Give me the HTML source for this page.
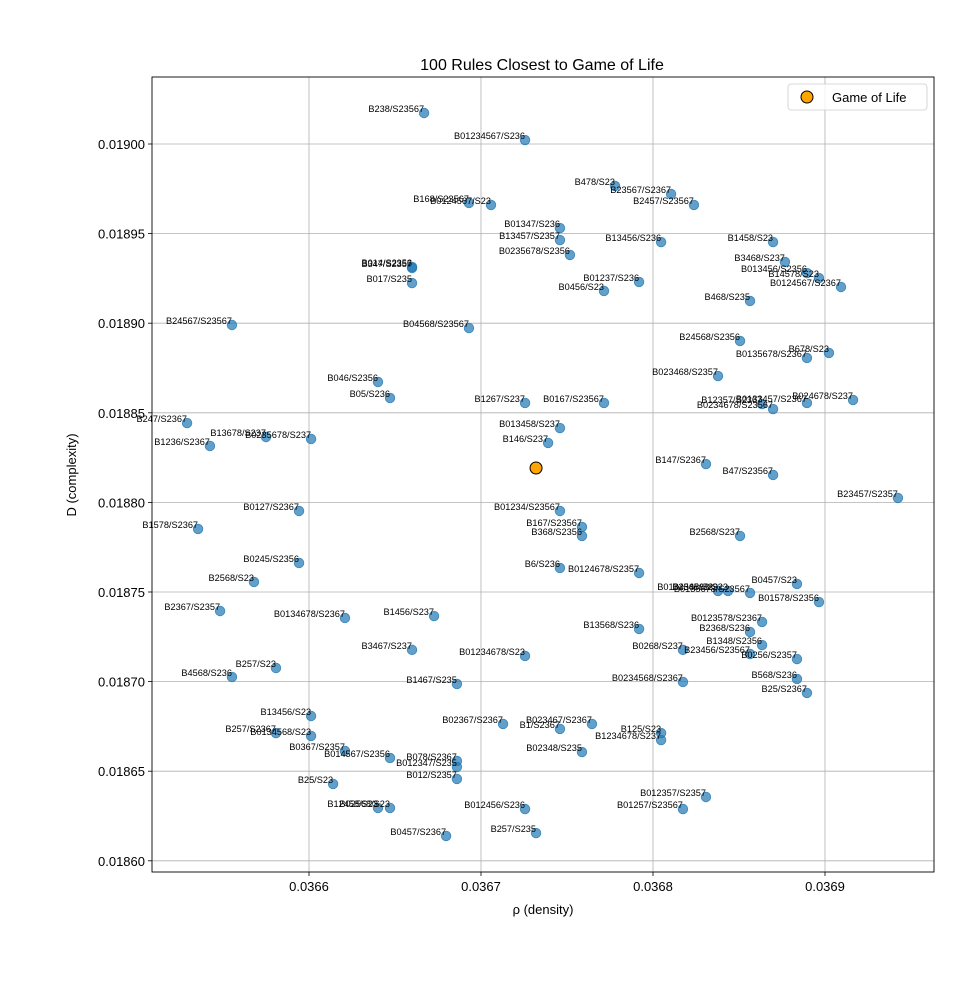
<!DOCTYPE html>
<html><head><meta charset="utf-8"><style>
body{margin:0;background:#fff}
svg{display:block;font-family:"Liberation Sans","DejaVu Sans",sans-serif}
</style></head><body>
<svg id="chart" width="956" height="993"></svg>
<script>
const ruleLabels=["B238/S23567","B01234567/S236","B478/S23","B23567/S2367","B2457/S23567","B168/S23567","B0124567/S23","B01347/S236","B13457/S2357","B0235678/S2356","B13456/S236","B1458/S23","B3468/S237","B013456/S2356","B14578/S23","B0124567/S2367","B014/S2356","B347/S2357","B017/S235","B01237/S236","B0456/S23","B468/S235","B24567/S23567","B04568/S23567","B24568/S2356","B678/S23","B0135678/S2367","B023468/S2357","B046/S2356","B05/S236","B1267/S237","B0167/S23567","B024678/S237","B0133457/S2367","B12357/S2367","B0234678/S23567","B247/S2367","B13678/S237","B0235678/S237","B1236/S2367","B013458/S237","B146/S237","B147/S2367","B47/S23567","B23457/S2357","B0127/S2367","B01234/S23567","B1578/S2367","B167/S23567","B368/S2356","B2568/S237","B0245/S2356","B6/S236","B0124678/S2357","B2568/S23","B0457/S23","B0134568/S23","B234568/S23","B0135678/S23567","B01578/S2356","B2367/S2357","B0134678/S2367","B1456/S237","B0123578/S2367","B13568/S236","B2368/S236","B1348/S2356","B0268/S237","B23456/S23567","B0256/S2357","B3467/S237","B01234678/S23","B257/S23","B568/S236","B4568/S236","B1467/S235","B0234568/S2367","B25/S2367","B13456/S23","B257/S2367","B0134568/S23","B02367/S2367","B1/S2367","B023467/S2367","B125/S23","B1234678/S237","B0367/S2357","B014567/S2356","B078/S2367","B012347/S235","B02348/S235","B012/S2357","B25/S23","B012357/S2357","B12458/S23","B02568/S23","B012456/S236","B01257/S23567","B0457/S2367","B257/S235"];
const densities=[0.0366669,0.0367256,0.0367779,0.0368105,0.0368238,0.0366930,0.0367058,0.0367459,0.0367459,0.0367517,0.0368047,0.0368698,0.0368767,0.0368895,0.0368965,0.0369093,0.0366599,0.0366599,0.0366599,0.0367919,0.0367715,0.0368564,0.0365552,0.0366930,0.0368506,0.0369023,0.0368895,0.0368378,0.0366401,0.0366471,0.0367256,0.0367715,0.0369163,0.0368895,0.0368634,0.0368698,0.0365291,0.0365750,0.0366012,0.0365424,0.0367459,0.0367390,0.0368308,0.0368698,0.0369424,0.0365942,0.0367459,0.0365355,0.0367587,0.0367587,0.0368506,0.0365942,0.0367459,0.0367919,0.0365680,0.0368837,0.0368378,0.0368436,0.0368564,0.0368965,0.0365483,0.0366209,0.0366727,0.0368634,0.0367919,0.0368564,0.0368634,0.0368174,0.0368564,0.0368837,0.0366599,0.0367256,0.0365808,0.0368837,0.0365552,0.0366860,0.0368174,0.0368895,0.0366012,0.0365808,0.0366012,0.0367128,0.0367459,0.0367645,0.0368047,0.0368047,0.0366209,0.0366471,0.0366860,0.0366860,0.0367587,0.0366860,0.0366140,0.0368308,0.0366401,0.0366471,0.0367256,0.0368174,0.0366797,0.0367320];
const complexities=[0.0190173,0.0190022,0.0189766,0.0189721,0.0189660,0.0189671,0.0189660,0.0189531,0.0189464,0.0189381,0.0189453,0.0189453,0.0189342,0.0189280,0.0189252,0.0189202,0.0189314,0.0189308,0.0189224,0.0189230,0.0189180,0.0189124,0.0188990,0.0188973,0.0188901,0.0188834,0.0188806,0.0188705,0.0188672,0.0188583,0.0188555,0.0188555,0.0188572,0.0188555,0.0188549,0.0188521,0.0188443,0.0188365,0.0188354,0.0188315,0.0188415,0.0188332,0.0188214,0.0188153,0.0188025,0.0187952,0.0187952,0.0187852,0.0187863,0.0187813,0.0187813,0.0187662,0.0187634,0.0187606,0.0187556,0.0187545,0.0187506,0.0187506,0.0187495,0.0187444,0.0187394,0.0187355,0.0187366,0.0187333,0.0187294,0.0187277,0.0187204,0.0187177,0.0187154,0.0187126,0.0187177,0.0187143,0.0187076,0.0187015,0.0187026,0.0186987,0.0186998,0.0186937,0.0186808,0.0186713,0.0186697,0.0186764,0.0186736,0.0186764,0.0186713,0.0186674,0.0186613,0.0186574,0.0186557,0.0186524,0.0186607,0.0186457,0.0186429,0.0186356,0.0186295,0.0186295,0.0186289,0.0186289,0.0186139,0.0186155];
const golDensity=[0.0367320];
const golComplexity=[0.0188192];
const xTicks=[0.0366,0.0367,0.0368,0.0369];
const xTickLabels=["0.0366","0.0367","0.0368","0.0369"];
const yTicks=[0.0186,0.01865,0.0187,0.01875,0.0188,0.01885,0.0189,0.01895,0.019];
const yTickLabels=["0.01860","0.01865","0.01870","0.01875","0.01880","0.01885","0.01890","0.01895","0.01900"];

const NS="http://www.w3.org/2000/svg";
const svg=document.getElementById('chart');
const L=152,R=934,T=77,B=872;
function xs(v){return 309+(v-0.0366)/0.0001*172;}
function ys(v){return 144+(0.019-v)/0.00005*89.6;}
function mk(tag,attrs,parent){const e=document.createElementNS(NS,tag);for(const k in attrs)e.setAttribute(k,attrs[k]);(parent||svg).appendChild(e);return e;}

const title=mk('text',{x:542,y:70,'text-anchor':'middle','font-size':16,fill:'#000'});
title.textContent='100 Rules Closest to Game of Life';



const grid=mk('g',{});


xTicks.forEach((t,i)=>{
  const x=xs(t);
  mk('line',{x1:x,x2:x,y1:T,y2:B,stroke:'#b0b0b0','stroke-width':0.8},grid);
  mk('line',{x1:x,x2:x,y1:B,y2:B+4,stroke:'#000','stroke-width':0.8});
  const tx=mk('text',{x:x,y:B+19,'text-anchor':'middle','font-size':13});
  tx.textContent=xTickLabels[i];
  
  
});
yTicks.forEach((t,i)=>{
  const y=ys(t);
  mk('line',{x1:L,x2:R,y1:y,y2:y,stroke:'#b0b0b0','stroke-width':0.8},grid);
  mk('line',{x1:L-4,x2:L,y1:y,y2:y,stroke:'#000','stroke-width':0.8});
  const tx=mk('text',{x:L-7,y:y+5,'text-anchor':'end','font-size':13});
  tx.textContent=yTickLabels[i];
  
  
});

const pts=mk('g',{});


densities.forEach((d,i)=>{
  const x=xs(d),y=ys(complexities[i]);
  const c=mk('circle',{cx:x,cy:y,r:4.8,fill:'#1f77b4','fill-opacity':0.7,stroke:'#1f77b4','stroke-opacity':0.8,'stroke-width':0.8},pts);
  
  
});
densities.forEach((d,i)=>{
  const x=xs(d),y=ys(complexities[i]);
  const tx=mk('text',{x:x,y:y-1,'text-anchor':'end','font-size':9.2},pts);
  tx.textContent=ruleLabels[i];
  
  
});
golDensity.forEach((d,i)=>{
  const g=mk('circle',{cx:xs(d),cy:ys(golComplexity[i]),r:6,fill:'#ffa500',stroke:'#000','stroke-width':1});
  
  
});

const frame=mk('rect',{x:L,y:T,width:R-L,height:B-T,fill:'none',stroke:'#000','stroke-width':0.9});



const xl=mk('text',{x:543,y:914,'text-anchor':'middle','font-size':13});
xl.textContent='ρ (density)';


const yl=mk('text',{x:0,y:0,'text-anchor':'middle','font-size':13,transform:'translate(76,475) rotate(-90)'});
yl.textContent='D (complexity)';



const leg=mk('g',{});


mk('rect',{x:788,y:84,width:139,height:26,rx:3,fill:'#fff','fill-opacity':0.8,stroke:'#ccc','stroke-width':0.8},leg);
const lm=mk('circle',{cx:807,cy:97,r:6,fill:'#ffa500',stroke:'#000','stroke-width':1},leg);


const lt=mk('text',{x:832,y:102,'font-size':13},leg);
lt.textContent='Game of Life';


</script>
</body></html>
